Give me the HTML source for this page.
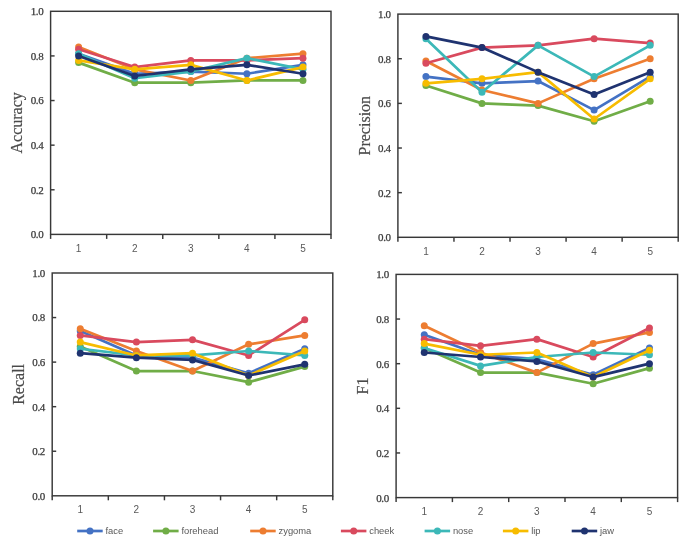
<!DOCTYPE html>
<html><head><meta charset="utf-8"><style>
html,body{margin:0;padding:0;background:#fff;}
body{width:685px;height:553px;overflow:hidden;}
svg{display:block;filter:blur(0.5px);}
.yl{font-family:"Liberation Serif",serif;font-size:11px;letter-spacing:-0.35px;fill:#3a3a3a;stroke:#3a3a3a;stroke-width:0.25px;text-anchor:end;}
.xl{font-family:"Liberation Sans",sans-serif;font-size:10px;fill:#595959;text-anchor:middle;}
.tt{font-family:"Liberation Serif",serif;font-size:16px;fill:#4a4a4a;stroke:#4a4a4a;stroke-width:0.2px;text-anchor:middle;}
.lg{font-family:"Liberation Sans",sans-serif;font-size:9.4px;fill:#595959;}
</style></head><body>
<svg width="685" height="553" viewBox="0 0 685 553">
<rect width="685" height="553" fill="#fff"/>
<polyline points="78.64,53.69 134.72,73.77 190.8,71.54 246.88,73.77 302.96,64.84" fill="none" stroke="#4472C4" stroke-width="2.7" stroke-linejoin="round" stroke-linecap="round"/>
<circle cx="78.64" cy="53.69" r="3.5" fill="#4472C4"/>
<circle cx="134.72" cy="73.77" r="3.5" fill="#4472C4"/>
<circle cx="190.8" cy="71.54" r="3.5" fill="#4472C4"/>
<circle cx="246.88" cy="73.77" r="3.5" fill="#4472C4"/>
<circle cx="302.96" cy="64.84" r="3.5" fill="#4472C4"/>
<polyline points="78.64,62.61 134.72,82.69 190.8,82.69 246.88,80.46 302.96,80.46" fill="none" stroke="#70AD47" stroke-width="2.7" stroke-linejoin="round" stroke-linecap="round"/>
<circle cx="78.64" cy="62.61" r="3.5" fill="#70AD47"/>
<circle cx="134.72" cy="82.69" r="3.5" fill="#70AD47"/>
<circle cx="190.8" cy="82.69" r="3.5" fill="#70AD47"/>
<circle cx="246.88" cy="80.46" r="3.5" fill="#70AD47"/>
<circle cx="302.96" cy="80.46" r="3.5" fill="#70AD47"/>
<polyline points="78.64,47 134.72,69.31 190.8,80.46 246.88,58.15 302.96,53.69" fill="none" stroke="#ED7D31" stroke-width="2.7" stroke-linejoin="round" stroke-linecap="round"/>
<circle cx="78.64" cy="47" r="3.5" fill="#ED7D31"/>
<circle cx="134.72" cy="69.31" r="3.5" fill="#ED7D31"/>
<circle cx="190.8" cy="80.46" r="3.5" fill="#ED7D31"/>
<circle cx="246.88" cy="58.15" r="3.5" fill="#ED7D31"/>
<circle cx="302.96" cy="53.69" r="3.5" fill="#ED7D31"/>
<polyline points="78.64,49.23 134.72,67.08 190.8,60.38 246.88,60.38 302.96,58.15" fill="none" stroke="#D94A5E" stroke-width="2.7" stroke-linejoin="round" stroke-linecap="round"/>
<circle cx="78.64" cy="49.23" r="3.5" fill="#D94A5E"/>
<circle cx="134.72" cy="67.08" r="3.5" fill="#D94A5E"/>
<circle cx="190.8" cy="60.38" r="3.5" fill="#D94A5E"/>
<circle cx="246.88" cy="60.38" r="3.5" fill="#D94A5E"/>
<circle cx="302.96" cy="58.15" r="3.5" fill="#D94A5E"/>
<polyline points="78.64,53.69 134.72,78.23 190.8,71.54 246.88,58.15 302.96,69.31" fill="none" stroke="#3CB8B8" stroke-width="2.7" stroke-linejoin="round" stroke-linecap="round"/>
<circle cx="78.64" cy="53.69" r="3.5" fill="#3CB8B8"/>
<circle cx="134.72" cy="78.23" r="3.5" fill="#3CB8B8"/>
<circle cx="190.8" cy="71.54" r="3.5" fill="#3CB8B8"/>
<circle cx="246.88" cy="58.15" r="3.5" fill="#3CB8B8"/>
<circle cx="302.96" cy="69.31" r="3.5" fill="#3CB8B8"/>
<polyline points="78.64,60.38 134.72,69.31 190.8,64.84 246.88,80.46 302.96,67.08" fill="none" stroke="#F7BC00" stroke-width="2.7" stroke-linejoin="round" stroke-linecap="round"/>
<circle cx="78.64" cy="60.38" r="3.5" fill="#F7BC00"/>
<circle cx="134.72" cy="69.31" r="3.5" fill="#F7BC00"/>
<circle cx="190.8" cy="64.84" r="3.5" fill="#F7BC00"/>
<circle cx="246.88" cy="80.46" r="3.5" fill="#F7BC00"/>
<circle cx="302.96" cy="67.08" r="3.5" fill="#F7BC00"/>
<polyline points="78.64,55.92 134.72,76 190.8,69.31 246.88,64.84 302.96,73.77" fill="none" stroke="#1F3370" stroke-width="2.7" stroke-linejoin="round" stroke-linecap="round"/>
<circle cx="78.64" cy="55.92" r="3.5" fill="#1F3370"/>
<circle cx="134.72" cy="76" r="3.5" fill="#1F3370"/>
<circle cx="190.8" cy="69.31" r="3.5" fill="#1F3370"/>
<circle cx="246.88" cy="64.84" r="3.5" fill="#1F3370"/>
<circle cx="302.96" cy="73.77" r="3.5" fill="#1F3370"/>
<rect x="50.6" y="11.3" width="280.4" height="223.1" fill="none" stroke="#383838" stroke-width="1.45"/>
<line x1="50.6" y1="189.78" x2="54.6" y2="189.78" stroke="#383838" stroke-width="1.45"/>
<line x1="50.6" y1="145.16" x2="54.6" y2="145.16" stroke="#383838" stroke-width="1.45"/>
<line x1="50.6" y1="100.54" x2="54.6" y2="100.54" stroke="#383838" stroke-width="1.45"/>
<line x1="50.6" y1="55.92" x2="54.6" y2="55.92" stroke="#383838" stroke-width="1.45"/>
<text x="43.4" y="238.3" class="yl">0.0</text>
<text x="43.4" y="193.68" class="yl">0.2</text>
<text x="43.4" y="149.06" class="yl">0.4</text>
<text x="43.4" y="104.44" class="yl">0.6</text>
<text x="43.4" y="59.82" class="yl">0.8</text>
<text x="43.4" y="15.2" class="yl">1.0</text>
<line x1="50.6" y1="234.4" x2="50.6" y2="238.9" stroke="#383838" stroke-width="1.45"/>
<line x1="106.68" y1="234.4" x2="106.68" y2="238.9" stroke="#383838" stroke-width="1.45"/>
<line x1="162.76" y1="234.4" x2="162.76" y2="238.9" stroke="#383838" stroke-width="1.45"/>
<line x1="218.84" y1="234.4" x2="218.84" y2="238.9" stroke="#383838" stroke-width="1.45"/>
<line x1="274.92" y1="234.4" x2="274.92" y2="238.9" stroke="#383838" stroke-width="1.45"/>
<line x1="331" y1="234.4" x2="331" y2="238.9" stroke="#383838" stroke-width="1.45"/>
<text x="78.64" y="251.7" class="xl">1</text>
<text x="134.72" y="251.7" class="xl">2</text>
<text x="190.8" y="251.7" class="xl">3</text>
<text x="246.88" y="251.7" class="xl">4</text>
<text x="302.96" y="251.7" class="xl">5</text>
<text transform="translate(22,122.85) rotate(-90)" class="tt">Accuracy</text>
<polyline points="425.93,76.6 481.99,83.29 538.05,81.06 594.11,110.08 650.17,76.6" fill="none" stroke="#4472C4" stroke-width="2.7" stroke-linejoin="round" stroke-linecap="round"/>
<circle cx="425.93" cy="76.6" r="3.5" fill="#4472C4"/>
<circle cx="481.99" cy="83.29" r="3.5" fill="#4472C4"/>
<circle cx="538.05" cy="81.06" r="3.5" fill="#4472C4"/>
<circle cx="594.11" cy="110.08" r="3.5" fill="#4472C4"/>
<circle cx="650.17" cy="76.6" r="3.5" fill="#4472C4"/>
<polyline points="425.93,85.52 481.99,103.38 538.05,105.61 594.11,121.24 650.17,101.15" fill="none" stroke="#70AD47" stroke-width="2.7" stroke-linejoin="round" stroke-linecap="round"/>
<circle cx="425.93" cy="85.52" r="3.5" fill="#70AD47"/>
<circle cx="481.99" cy="103.38" r="3.5" fill="#70AD47"/>
<circle cx="538.05" cy="105.61" r="3.5" fill="#70AD47"/>
<circle cx="594.11" cy="121.24" r="3.5" fill="#70AD47"/>
<circle cx="650.17" cy="101.15" r="3.5" fill="#70AD47"/>
<polyline points="425.93,60.97 481.99,89.99 538.05,103.38 594.11,78.83 650.17,58.74" fill="none" stroke="#ED7D31" stroke-width="2.7" stroke-linejoin="round" stroke-linecap="round"/>
<circle cx="425.93" cy="60.97" r="3.5" fill="#ED7D31"/>
<circle cx="481.99" cy="89.99" r="3.5" fill="#ED7D31"/>
<circle cx="538.05" cy="103.38" r="3.5" fill="#ED7D31"/>
<circle cx="594.11" cy="78.83" r="3.5" fill="#ED7D31"/>
<circle cx="650.17" cy="58.74" r="3.5" fill="#ED7D31"/>
<polyline points="425.93,63.2 481.99,47.58 538.05,45.35 594.11,38.65 650.17,43.12" fill="none" stroke="#D94A5E" stroke-width="2.7" stroke-linejoin="round" stroke-linecap="round"/>
<circle cx="425.93" cy="63.2" r="3.5" fill="#D94A5E"/>
<circle cx="481.99" cy="47.58" r="3.5" fill="#D94A5E"/>
<circle cx="538.05" cy="45.35" r="3.5" fill="#D94A5E"/>
<circle cx="594.11" cy="38.65" r="3.5" fill="#D94A5E"/>
<circle cx="650.17" cy="43.12" r="3.5" fill="#D94A5E"/>
<polyline points="425.93,38.65 481.99,92.22 538.05,45.35 594.11,76.6 650.17,45.35" fill="none" stroke="#3CB8B8" stroke-width="2.7" stroke-linejoin="round" stroke-linecap="round"/>
<circle cx="425.93" cy="38.65" r="3.5" fill="#3CB8B8"/>
<circle cx="481.99" cy="92.22" r="3.5" fill="#3CB8B8"/>
<circle cx="538.05" cy="45.35" r="3.5" fill="#3CB8B8"/>
<circle cx="594.11" cy="76.6" r="3.5" fill="#3CB8B8"/>
<circle cx="650.17" cy="45.35" r="3.5" fill="#3CB8B8"/>
<polyline points="425.93,83.29 481.99,78.83 538.05,72.13 594.11,119 650.17,78.83" fill="none" stroke="#F7BC00" stroke-width="2.7" stroke-linejoin="round" stroke-linecap="round"/>
<circle cx="425.93" cy="83.29" r="3.5" fill="#F7BC00"/>
<circle cx="481.99" cy="78.83" r="3.5" fill="#F7BC00"/>
<circle cx="538.05" cy="72.13" r="3.5" fill="#F7BC00"/>
<circle cx="594.11" cy="119" r="3.5" fill="#F7BC00"/>
<circle cx="650.17" cy="78.83" r="3.5" fill="#F7BC00"/>
<polyline points="425.93,36.42 481.99,47.58 538.05,72.13 594.11,94.45 650.17,72.13" fill="none" stroke="#1F3370" stroke-width="2.7" stroke-linejoin="round" stroke-linecap="round"/>
<circle cx="425.93" cy="36.42" r="3.5" fill="#1F3370"/>
<circle cx="481.99" cy="47.58" r="3.5" fill="#1F3370"/>
<circle cx="538.05" cy="72.13" r="3.5" fill="#1F3370"/>
<circle cx="594.11" cy="94.45" r="3.5" fill="#1F3370"/>
<circle cx="650.17" cy="72.13" r="3.5" fill="#1F3370"/>
<rect x="397.9" y="14.1" width="280.3" height="223.2" fill="none" stroke="#383838" stroke-width="1.45"/>
<line x1="397.9" y1="192.66" x2="401.9" y2="192.66" stroke="#383838" stroke-width="1.45"/>
<line x1="397.9" y1="148.02" x2="401.9" y2="148.02" stroke="#383838" stroke-width="1.45"/>
<line x1="397.9" y1="103.38" x2="401.9" y2="103.38" stroke="#383838" stroke-width="1.45"/>
<line x1="397.9" y1="58.74" x2="401.9" y2="58.74" stroke="#383838" stroke-width="1.45"/>
<text x="390.7" y="241.2" class="yl">0.0</text>
<text x="390.7" y="196.56" class="yl">0.2</text>
<text x="390.7" y="151.92" class="yl">0.4</text>
<text x="390.7" y="107.28" class="yl">0.6</text>
<text x="390.7" y="62.64" class="yl">0.8</text>
<text x="390.7" y="18" class="yl">1.0</text>
<line x1="397.9" y1="237.3" x2="397.9" y2="241.8" stroke="#383838" stroke-width="1.45"/>
<line x1="453.96" y1="237.3" x2="453.96" y2="241.8" stroke="#383838" stroke-width="1.45"/>
<line x1="510.02" y1="237.3" x2="510.02" y2="241.8" stroke="#383838" stroke-width="1.45"/>
<line x1="566.08" y1="237.3" x2="566.08" y2="241.8" stroke="#383838" stroke-width="1.45"/>
<line x1="622.14" y1="237.3" x2="622.14" y2="241.8" stroke="#383838" stroke-width="1.45"/>
<line x1="678.2" y1="237.3" x2="678.2" y2="241.8" stroke="#383838" stroke-width="1.45"/>
<text x="425.93" y="254.6" class="xl">1</text>
<text x="481.99" y="254.6" class="xl">2</text>
<text x="538.05" y="254.6" class="xl">3</text>
<text x="594.11" y="254.6" class="xl">4</text>
<text x="650.17" y="254.6" class="xl">5</text>
<text transform="translate(369.5,125.7) rotate(-90)" class="tt">Precision</text>
<polyline points="80.26,330.93 136.38,355.44 192.5,357.66 248.62,373.26 304.74,348.75" fill="none" stroke="#4472C4" stroke-width="2.7" stroke-linejoin="round" stroke-linecap="round"/>
<circle cx="80.26" cy="330.93" r="3.5" fill="#4472C4"/>
<circle cx="136.38" cy="355.44" r="3.5" fill="#4472C4"/>
<circle cx="192.5" cy="357.66" r="3.5" fill="#4472C4"/>
<circle cx="248.62" cy="373.26" r="3.5" fill="#4472C4"/>
<circle cx="304.74" cy="348.75" r="3.5" fill="#4472C4"/>
<polyline points="80.26,346.52 136.38,371.03 192.5,371.03 248.62,382.17 304.74,366.58" fill="none" stroke="#70AD47" stroke-width="2.7" stroke-linejoin="round" stroke-linecap="round"/>
<circle cx="80.26" cy="346.52" r="3.5" fill="#70AD47"/>
<circle cx="136.38" cy="371.03" r="3.5" fill="#70AD47"/>
<circle cx="192.5" cy="371.03" r="3.5" fill="#70AD47"/>
<circle cx="248.62" cy="382.17" r="3.5" fill="#70AD47"/>
<circle cx="304.74" cy="366.58" r="3.5" fill="#70AD47"/>
<polyline points="80.26,328.7 136.38,350.98 192.5,371.03 248.62,344.3 304.74,335.38" fill="none" stroke="#ED7D31" stroke-width="2.7" stroke-linejoin="round" stroke-linecap="round"/>
<circle cx="80.26" cy="328.7" r="3.5" fill="#ED7D31"/>
<circle cx="136.38" cy="350.98" r="3.5" fill="#ED7D31"/>
<circle cx="192.5" cy="371.03" r="3.5" fill="#ED7D31"/>
<circle cx="248.62" cy="344.3" r="3.5" fill="#ED7D31"/>
<circle cx="304.74" cy="335.38" r="3.5" fill="#ED7D31"/>
<polyline points="80.26,335.38 136.38,342.07 192.5,339.84 248.62,355.44 304.74,319.79" fill="none" stroke="#D94A5E" stroke-width="2.7" stroke-linejoin="round" stroke-linecap="round"/>
<circle cx="80.26" cy="335.38" r="3.5" fill="#D94A5E"/>
<circle cx="136.38" cy="342.07" r="3.5" fill="#D94A5E"/>
<circle cx="192.5" cy="339.84" r="3.5" fill="#D94A5E"/>
<circle cx="248.62" cy="355.44" r="3.5" fill="#D94A5E"/>
<circle cx="304.74" cy="319.79" r="3.5" fill="#D94A5E"/>
<polyline points="80.26,348.75 136.38,355.44 192.5,355.44 248.62,350.98 304.74,355.44" fill="none" stroke="#3CB8B8" stroke-width="2.7" stroke-linejoin="round" stroke-linecap="round"/>
<circle cx="80.26" cy="348.75" r="3.5" fill="#3CB8B8"/>
<circle cx="136.38" cy="355.44" r="3.5" fill="#3CB8B8"/>
<circle cx="192.5" cy="355.44" r="3.5" fill="#3CB8B8"/>
<circle cx="248.62" cy="350.98" r="3.5" fill="#3CB8B8"/>
<circle cx="304.74" cy="355.44" r="3.5" fill="#3CB8B8"/>
<polyline points="80.26,342.07 136.38,355.44 192.5,353.21 248.62,375.49 304.74,350.98" fill="none" stroke="#F7BC00" stroke-width="2.7" stroke-linejoin="round" stroke-linecap="round"/>
<circle cx="80.26" cy="342.07" r="3.5" fill="#F7BC00"/>
<circle cx="136.38" cy="355.44" r="3.5" fill="#F7BC00"/>
<circle cx="192.5" cy="353.21" r="3.5" fill="#F7BC00"/>
<circle cx="248.62" cy="375.49" r="3.5" fill="#F7BC00"/>
<circle cx="304.74" cy="350.98" r="3.5" fill="#F7BC00"/>
<polyline points="80.26,353.21 136.38,357.66 192.5,359.89 248.62,375.49 304.74,364.35" fill="none" stroke="#1F3370" stroke-width="2.7" stroke-linejoin="round" stroke-linecap="round"/>
<circle cx="80.26" cy="353.21" r="3.5" fill="#1F3370"/>
<circle cx="136.38" cy="357.66" r="3.5" fill="#1F3370"/>
<circle cx="192.5" cy="359.89" r="3.5" fill="#1F3370"/>
<circle cx="248.62" cy="375.49" r="3.5" fill="#1F3370"/>
<circle cx="304.74" cy="364.35" r="3.5" fill="#1F3370"/>
<rect x="52.2" y="273" width="280.6" height="222.8" fill="none" stroke="#383838" stroke-width="1.45"/>
<line x1="52.2" y1="451.24" x2="56.2" y2="451.24" stroke="#383838" stroke-width="1.45"/>
<line x1="52.2" y1="406.68" x2="56.2" y2="406.68" stroke="#383838" stroke-width="1.45"/>
<line x1="52.2" y1="362.12" x2="56.2" y2="362.12" stroke="#383838" stroke-width="1.45"/>
<line x1="52.2" y1="317.56" x2="56.2" y2="317.56" stroke="#383838" stroke-width="1.45"/>
<text x="45" y="499.7" class="yl">0.0</text>
<text x="45" y="455.14" class="yl">0.2</text>
<text x="45" y="410.58" class="yl">0.4</text>
<text x="45" y="366.02" class="yl">0.6</text>
<text x="45" y="321.46" class="yl">0.8</text>
<text x="45" y="276.9" class="yl">1.0</text>
<line x1="52.2" y1="495.8" x2="52.2" y2="500.3" stroke="#383838" stroke-width="1.45"/>
<line x1="108.32" y1="495.8" x2="108.32" y2="500.3" stroke="#383838" stroke-width="1.45"/>
<line x1="164.44" y1="495.8" x2="164.44" y2="500.3" stroke="#383838" stroke-width="1.45"/>
<line x1="220.56" y1="495.8" x2="220.56" y2="500.3" stroke="#383838" stroke-width="1.45"/>
<line x1="276.68" y1="495.8" x2="276.68" y2="500.3" stroke="#383838" stroke-width="1.45"/>
<line x1="332.8" y1="495.8" x2="332.8" y2="500.3" stroke="#383838" stroke-width="1.45"/>
<text x="80.26" y="513.1" class="xl">1</text>
<text x="136.38" y="513.1" class="xl">2</text>
<text x="192.5" y="513.1" class="xl">3</text>
<text x="248.62" y="513.1" class="xl">4</text>
<text x="304.74" y="513.1" class="xl">5</text>
<text transform="translate(24.1,384.4) rotate(-90)" class="tt">Recall</text>
<polyline points="424.25,334.66 480.55,354.75 536.85,359.22 593.15,374.84 649.45,348.06" fill="none" stroke="#4472C4" stroke-width="2.7" stroke-linejoin="round" stroke-linecap="round"/>
<circle cx="424.25" cy="334.66" r="3.5" fill="#4472C4"/>
<circle cx="480.55" cy="354.75" r="3.5" fill="#4472C4"/>
<circle cx="536.85" cy="359.22" r="3.5" fill="#4472C4"/>
<circle cx="593.15" cy="374.84" r="3.5" fill="#4472C4"/>
<circle cx="649.45" cy="348.06" r="3.5" fill="#4472C4"/>
<polyline points="424.25,348.06 480.55,372.61 536.85,372.61 593.15,383.77 649.45,368.14" fill="none" stroke="#70AD47" stroke-width="2.7" stroke-linejoin="round" stroke-linecap="round"/>
<circle cx="424.25" cy="348.06" r="3.5" fill="#70AD47"/>
<circle cx="480.55" cy="372.61" r="3.5" fill="#70AD47"/>
<circle cx="536.85" cy="372.61" r="3.5" fill="#70AD47"/>
<circle cx="593.15" cy="383.77" r="3.5" fill="#70AD47"/>
<circle cx="649.45" cy="368.14" r="3.5" fill="#70AD47"/>
<polyline points="424.25,325.74 480.55,352.52 536.85,372.61 593.15,343.59 649.45,332.43" fill="none" stroke="#ED7D31" stroke-width="2.7" stroke-linejoin="round" stroke-linecap="round"/>
<circle cx="424.25" cy="325.74" r="3.5" fill="#ED7D31"/>
<circle cx="480.55" cy="352.52" r="3.5" fill="#ED7D31"/>
<circle cx="536.85" cy="372.61" r="3.5" fill="#ED7D31"/>
<circle cx="593.15" cy="343.59" r="3.5" fill="#ED7D31"/>
<circle cx="649.45" cy="332.43" r="3.5" fill="#ED7D31"/>
<polyline points="424.25,339.13 480.55,345.82 536.85,339.13 593.15,356.98 649.45,327.97" fill="none" stroke="#D94A5E" stroke-width="2.7" stroke-linejoin="round" stroke-linecap="round"/>
<circle cx="424.25" cy="339.13" r="3.5" fill="#D94A5E"/>
<circle cx="480.55" cy="345.82" r="3.5" fill="#D94A5E"/>
<circle cx="536.85" cy="339.13" r="3.5" fill="#D94A5E"/>
<circle cx="593.15" cy="356.98" r="3.5" fill="#D94A5E"/>
<circle cx="649.45" cy="327.97" r="3.5" fill="#D94A5E"/>
<polyline points="424.25,348.06 480.55,365.91 536.85,356.98 593.15,352.52 649.45,354.75" fill="none" stroke="#3CB8B8" stroke-width="2.7" stroke-linejoin="round" stroke-linecap="round"/>
<circle cx="424.25" cy="348.06" r="3.5" fill="#3CB8B8"/>
<circle cx="480.55" cy="365.91" r="3.5" fill="#3CB8B8"/>
<circle cx="536.85" cy="356.98" r="3.5" fill="#3CB8B8"/>
<circle cx="593.15" cy="352.52" r="3.5" fill="#3CB8B8"/>
<circle cx="649.45" cy="354.75" r="3.5" fill="#3CB8B8"/>
<polyline points="424.25,343.59 480.55,354.75 536.85,352.52 593.15,377.07 649.45,350.29" fill="none" stroke="#F7BC00" stroke-width="2.7" stroke-linejoin="round" stroke-linecap="round"/>
<circle cx="424.25" cy="343.59" r="3.5" fill="#F7BC00"/>
<circle cx="480.55" cy="354.75" r="3.5" fill="#F7BC00"/>
<circle cx="536.85" cy="352.52" r="3.5" fill="#F7BC00"/>
<circle cx="593.15" cy="377.07" r="3.5" fill="#F7BC00"/>
<circle cx="649.45" cy="350.29" r="3.5" fill="#F7BC00"/>
<polyline points="424.25,352.52 480.55,356.98 536.85,361.45 593.15,377.07 649.45,363.68" fill="none" stroke="#1F3370" stroke-width="2.7" stroke-linejoin="round" stroke-linecap="round"/>
<circle cx="424.25" cy="352.52" r="3.5" fill="#1F3370"/>
<circle cx="480.55" cy="356.98" r="3.5" fill="#1F3370"/>
<circle cx="536.85" cy="361.45" r="3.5" fill="#1F3370"/>
<circle cx="593.15" cy="377.07" r="3.5" fill="#1F3370"/>
<circle cx="649.45" cy="363.68" r="3.5" fill="#1F3370"/>
<rect x="396.1" y="274.4" width="281.5" height="223.2" fill="none" stroke="#383838" stroke-width="1.45"/>
<line x1="396.1" y1="452.96" x2="400.1" y2="452.96" stroke="#383838" stroke-width="1.45"/>
<line x1="396.1" y1="408.32" x2="400.1" y2="408.32" stroke="#383838" stroke-width="1.45"/>
<line x1="396.1" y1="363.68" x2="400.1" y2="363.68" stroke="#383838" stroke-width="1.45"/>
<line x1="396.1" y1="319.04" x2="400.1" y2="319.04" stroke="#383838" stroke-width="1.45"/>
<text x="388.9" y="501.5" class="yl">0.0</text>
<text x="388.9" y="456.86" class="yl">0.2</text>
<text x="388.9" y="412.22" class="yl">0.4</text>
<text x="388.9" y="367.58" class="yl">0.6</text>
<text x="388.9" y="322.94" class="yl">0.8</text>
<text x="388.9" y="278.3" class="yl">1.0</text>
<line x1="396.1" y1="497.6" x2="396.1" y2="502.1" stroke="#383838" stroke-width="1.45"/>
<line x1="452.4" y1="497.6" x2="452.4" y2="502.1" stroke="#383838" stroke-width="1.45"/>
<line x1="508.7" y1="497.6" x2="508.7" y2="502.1" stroke="#383838" stroke-width="1.45"/>
<line x1="565" y1="497.6" x2="565" y2="502.1" stroke="#383838" stroke-width="1.45"/>
<line x1="621.3" y1="497.6" x2="621.3" y2="502.1" stroke="#383838" stroke-width="1.45"/>
<line x1="677.6" y1="497.6" x2="677.6" y2="502.1" stroke="#383838" stroke-width="1.45"/>
<text x="424.25" y="514.9" class="xl">1</text>
<text x="480.55" y="514.9" class="xl">2</text>
<text x="536.85" y="514.9" class="xl">3</text>
<text x="593.15" y="514.9" class="xl">4</text>
<text x="649.45" y="514.9" class="xl">5</text>
<text transform="translate(367.6,386) rotate(-90)" class="tt">F1</text>
<line x1="77.2" y1="531" x2="102.7" y2="531" stroke="#4472C4" stroke-width="2.7"/>
<circle cx="90" cy="531" r="3.5" fill="#4472C4"/>
<text x="105.5" y="534.3" class="lg">face</text>
<line x1="153.1" y1="531" x2="178.6" y2="531" stroke="#70AD47" stroke-width="2.7"/>
<circle cx="165.9" cy="531" r="3.5" fill="#70AD47"/>
<text x="181.4" y="534.3" class="lg">forehead</text>
<line x1="250.2" y1="531" x2="275.7" y2="531" stroke="#ED7D31" stroke-width="2.7"/>
<circle cx="263" cy="531" r="3.5" fill="#ED7D31"/>
<text x="278.5" y="534.3" class="lg">zygoma</text>
<line x1="340.9" y1="531" x2="366.4" y2="531" stroke="#D94A5E" stroke-width="2.7"/>
<circle cx="353.7" cy="531" r="3.5" fill="#D94A5E"/>
<text x="369.2" y="534.3" class="lg">cheek</text>
<line x1="424.6" y1="531" x2="450.1" y2="531" stroke="#3CB8B8" stroke-width="2.7"/>
<circle cx="437.4" cy="531" r="3.5" fill="#3CB8B8"/>
<text x="452.9" y="534.3" class="lg">nose</text>
<line x1="502.9" y1="531" x2="528.4" y2="531" stroke="#F7BC00" stroke-width="2.7"/>
<circle cx="515.7" cy="531" r="3.5" fill="#F7BC00"/>
<text x="531.2" y="534.3" class="lg">lip</text>
<line x1="571.7" y1="531" x2="597.2" y2="531" stroke="#1F3370" stroke-width="2.7"/>
<circle cx="584.5" cy="531" r="3.5" fill="#1F3370"/>
<text x="600" y="534.3" class="lg">jaw</text>
</svg>
</body></html>
